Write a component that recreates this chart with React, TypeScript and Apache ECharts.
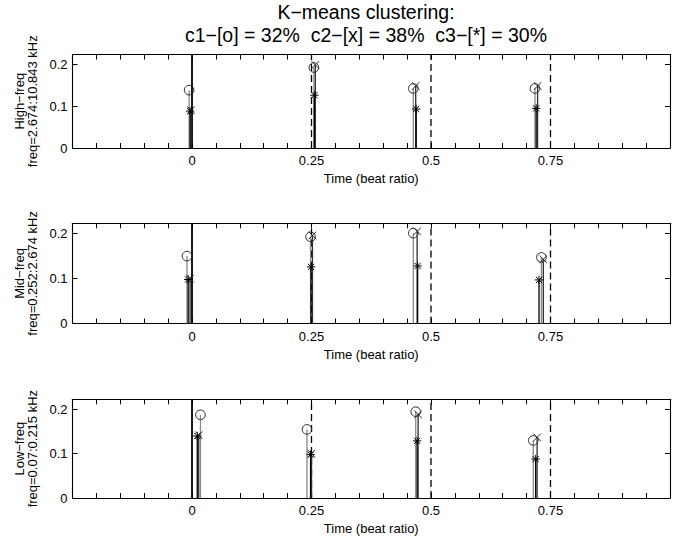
import React, { useEffect, useRef } from "react";
import * as echarts from "echarts";

// ---- data ----
const xTickLabels = [0, 0.25, 0.5, 0.75];
const yTickLabels = [0, 0.1, 0.2];
const beatLines = [0, 0.25, 0.5, 0.75];
const panelNames = [
  "High−freq\nfreq=2.674:10.843 kHz",
  "Mid−freq\nfreq=0.252:2.674 kHz",
  "Low−freq\nfreq=0.07:0.215 kHz",
];
const clusterMarkers = ["o", "x", "*"];
const titleLines = ["K−means clustering:", "c1−[o] = 32%  c2−[x] = 38%  c3−[*] = 30%"];
const xLabel = "Time (beat ratio)";

// High-freq panel
const highTimesC1 = [-0.006, 0.255, 0.463, 0.7175];
const highValsC1 = [0.138, 0.192, 0.142, 0.142];
const highTimesC2 = [-0.002, 0.258, 0.468, 0.723];
const highValsC2 = [0.09, 0.198, 0.148, 0.148];
const highTimesC3 = [-0.004, 0.256, 0.469, 0.72];
const highValsC3 = [0.088, 0.126, 0.093, 0.0945];

// Mid-freq panel
const midTimesC1 = [-0.0105, 0.248, 0.463, 0.731];
const midValsC1 = [0.15, 0.193, 0.201, 0.147];
const midTimesC2 = [-0.004, 0.252, 0.471, 0.735];
const midValsC2 = [0.1, 0.196, 0.205, 0.143];
const midTimesC3 = [-0.008, 0.249, 0.472, 0.726];
const midValsC3 = [0.098, 0.126, 0.128, 0.097];

// Low-freq panel
const lowTimesC1 = [0.0177, 0.2405, 0.468, 0.714];
const lowValsC1 = [0.188, 0.155, 0.195, 0.13];
const lowTimesC2 = [0.014, 0.25, 0.473, 0.722];
const lowValsC2 = [0.142, 0.1, 0.189, 0.137];
const lowTimesC3 = [0.011, 0.248, 0.471, 0.719];
const lowValsC3 = [0.14, 0.098, 0.129, 0.088];

const panels = [
  [[highTimesC1, highValsC1], [highTimesC2, highValsC2], [highTimesC3, highValsC3]],
  [[midTimesC1, midValsC1], [midTimesC2, midValsC2], [midTimesC3, midValsC3]],
  [[lowTimesC1, lowValsC1], [lowTimesC2, lowValsC2], [lowTimesC3, lowValsC3]],
];

const X_MIN = -0.25;
const X_MAX = 1.0;
const Y_MAX = 0.223;

const FONT = "'Liberation Sans', Arial, Helvetica, sans-serif";
const stemColors = ["#8a8a8a", "#2e2e2e", "#000000"];
const markerColors = ["#2a2a2a", "#2a2a2a", "#000000"];

const grids = [
  { left: 72.5, top: 54.5, width: 607.5, height: 93.5 },
  { left: 72.5, top: 223.3, width: 607.5, height: 100.2 },
  { left: 72.5, top: 399.3, width: 607.5, height: 100 },
];

function near(v: number, list: number[]) {
  return list.some((l) => Math.abs(v - l) < 1e-6);
}

function buildOption() {
  const xAxis: any[] = [];
  const yAxis: any[] = [];
  const series: any[] = [];

  grids.forEach((_, i) => {
    const baseX = {
      type: "value",
      gridIndex: i,
      min: X_MIN,
      max: X_MAX,
      interval: 0.05,
      splitLine: { show: false },
      axisLine: { show: true, onZero: false, lineStyle: { color: "#000", width: 1.1 } },
      axisTick: { show: true, inside: true, length: 5, lineStyle: { color: "#000", width: 1 } },
    };
    xAxis.push({
      ...baseX,
      position: "bottom",
      axisLabel: {
        show: true,
        margin: 6,
        color: "#000",
        fontFamily: FONT,
        fontSize: 13,
        showMinLabel: true,
        showMaxLabel: true,
        formatter: (v: number) => (near(v, xTickLabels) ? String(+v.toFixed(2)) : ""),
      },
      name: xLabel,
      nameLocation: "middle",
      nameGap: 24,
      nameTextStyle: { color: "#000", fontFamily: FONT, fontSize: 13 },
    });
    xAxis.push({ ...baseX, position: "top", axisLabel: { show: false } });

    const baseY = {
      type: "value",
      gridIndex: i,
      min: 0,
      max: Y_MAX,
      interval: 0.1,
      splitLine: { show: false },
      axisLine: { show: true, onZero: false, lineStyle: { color: "#000", width: 1.1 } },
      axisTick: { show: true, inside: true, length: 5, lineStyle: { color: "#000", width: 1 } },
    };
    yAxis.push({
      ...baseY,
      position: "left",
      axisLabel: {
        show: true,
        margin: 5,
        color: "#000",
        fontFamily: FONT,
        fontSize: 13,
        showMaxLabel: false,
        formatter: (v: number) => (near(v, yTickLabels) ? String(+v.toFixed(2)) : ""),
      },
      name: panelNames[i],
      nameLocation: "middle",
      nameRotate: 90,
      nameGap: 29,
      nameTextStyle: { color: "#000", fontFamily: FONT, fontSize: 13, lineHeight: 13 },
    });
    yAxis.push({ ...baseY, position: "right", axisLabel: { show: false } });

    // vertical beat lines
    series.push({
      type: "custom",
      xAxisIndex: 2 * i,
      yAxisIndex: 2 * i,
      silent: true,
      z: 1,
      data: beatLines.map((t) => [t]),
      encode: { x: 0 },
      renderItem: (params: any, api: any) => {
        const t = api.value(0);
        const p0 = api.coord([t, 0]);
        const p1 = api.coord([t, Y_MAX]);
        const solid = t === 0;
        return {
          type: "line",
          shape: { x1: p0[0], y1: p0[1], x2: p1[0], y2: p1[1] },
          style: {
            stroke: "#000",
            lineWidth: solid ? 1.8 : 1.3,
            lineDash: solid ? null : [7, 4],
          },
        };
      },
    });

    // stems
    panels[i].forEach(([times, vals], c) => {
      const marker = clusterMarkers[c];
      series.push({
        type: "custom",
        name: "c" + (c + 1),
        xAxisIndex: 2 * i,
        yAxisIndex: 2 * i,
        z: 3 + c,
        clip: false,
        data: times.map((t, k) => [t, vals[k]]),
        encode: { x: 0, y: 1 },
        renderItem: (params: any, api: any) => {
          const t = api.value(0);
          const v = api.value(1);
          const top = api.coord([t, v]);
          const base = api.coord([t, 0]);
          const col = markerColors[c];
          const children: any[] = [
            {
              type: "line",
              shape: { x1: base[0], y1: base[1], x2: top[0], y2: top[1] },
              style: { stroke: stemColors[c], lineWidth: 1.3 },
            },
          ];
          const [cx, cy] = top;
          if (marker === "o") {
            children.push({
              type: "circle",
              shape: { cx, cy, r: 4.8 },
              style: { fill: "none", stroke: col, lineWidth: 1 },
            });
          } else if (marker === "x") {
            const s = 3.8;
            children.push(
              { type: "line", shape: { x1: cx - s, y1: cy - s, x2: cx + s, y2: cy + s }, style: { stroke: col, lineWidth: 1 } },
              { type: "line", shape: { x1: cx - s, y1: cy + s, x2: cx + s, y2: cy - s }, style: { stroke: col, lineWidth: 1 } }
            );
          } else {
            const s = 4.2;
            const d = 3.1;
            children.push(
              { type: "line", shape: { x1: cx - s, y1: cy, x2: cx + s, y2: cy }, style: { stroke: col, lineWidth: 1 } },
              { type: "line", shape: { x1: cx, y1: cy - s, x2: cx, y2: cy + s }, style: { stroke: col, lineWidth: 1 } },
              { type: "line", shape: { x1: cx - d, y1: cy - d, x2: cx + d, y2: cy + d }, style: { stroke: col, lineWidth: 1 } },
              { type: "line", shape: { x1: cx - d, y1: cy + d, x2: cx + d, y2: cy - d }, style: { stroke: col, lineWidth: 1 } }
            );
          }
          return { type: "group", children };
        },
      });
    });
  });

  return {
    animation: false,
    backgroundColor: "#fff",
    title: {
      text: titleLines.join("\n"),
      left: 366,
      top: 0,
      textAlign: "center",
      textStyle: {
        color: "#000",
        fontFamily: FONT,
        fontSize: 19.5,
        fontWeight: "normal",
        lineHeight: 23,
      },
      padding: 0,
    },
    grid: grids.map((g) => ({ ...g, containLabel: false })),
    xAxis,
    yAxis,
    series,
  };
}

export default function App() {
  const ref = useRef<HTMLDivElement>(null);
  useEffect(() => {
    if (!ref.current) return;
    const chart = echarts.init(ref.current, undefined, { renderer: "svg" });
    chart.setOption(buildOption() as any);
    return () => chart.dispose();
  }, []);
  return (
    <div
      style={{ position: "fixed", left: 0, top: 0, width: 673, height: 536, overflow: "hidden", background: "#fff" }}
    >
      <div ref={ref} style={{ width: 673, height: 536 }} />
    </div>
  );
}
